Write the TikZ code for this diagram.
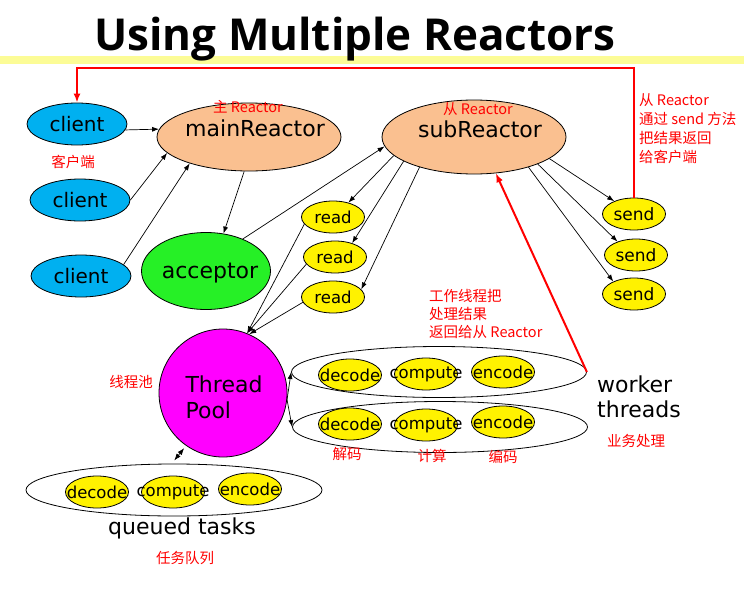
\documentclass[tikz,border=0pt]{standalone}
\usepackage{fontspec}
\setmainfont{DejaVu Sans}
\newfontfamily\titlefont{Open Sans}
\newfontfamily\cjk{Noto Sans CJK SC}
\usepackage{tikz}
\usetikzlibrary{arrows.meta,shapes.geometric}
\definecolor{clientblue}{RGB}{0,176,240}
\definecolor{reactorpeach}{RGB}{250,192,144}
\definecolor{acceptgreen}{RGB}{38,240,38}
\definecolor{poolmagenta}{RGB}{255,0,255}
\definecolor{bandyellow}{RGB}{252,252,150}
\newcommand{\nodetxt}[1]{\makebox[0pt]{#1}}
\tikzstyle{client}    = [ellipse, draw=black, line width=0.8pt, fill=clientblue, minimum width=100pt, minimum height=42pt, inner sep=0pt, font=\fontsize{20}{24}\selectfont]
\tikzstyle{reactor}   = [ellipse, draw=black, line width=0.8pt, fill=reactorpeach, minimum width=184pt, inner sep=0pt]
\tikzstyle{acceptor}  = [ellipse, draw=black, line width=0.8pt, fill=acceptgreen, minimum width=129pt, minimum height=77pt, inner sep=0pt]
\tikzstyle{pool}      = [circle, draw=black, line width=0.8pt, fill=poolmagenta, minimum size=128pt, inner sep=0pt]
\tikzstyle{yblob}     = [ellipse, draw=black, line width=0.8pt, fill=yellow, minimum width=63pt, minimum height=32pt, inner sep=0pt, font=\fontsize{16.5}{20}\selectfont]
\tikzstyle{wkgroup}   = [ellipse, draw=black, line width=0.8pt, minimum width=295pt, minimum height=51pt, inner sep=0pt]
\tikzstyle{bigtext}   = [inner sep=0pt, font=\fontsize{22}{26}\selectfont]
\tikzstyle{zh}        = [inner sep=0pt, text=red, font=\cjk\fontsize{14.5}{19}\selectfont]
\tikzstyle{arrow}     = [line width=0.7pt, -{Latex[length=7pt,width=5pt]}]
\tikzstyle{redarrow}  = [line width=2pt, red, -{Latex[length=9pt,width=7pt]}]

\begin{document}
\begin{tikzpicture}[x=1pt,y=-1pt]
		\useasboundingbox (0,0) rectangle (744,589);
		\fill[bandyellow] (0,56) rectangle (744,64);
		\node[anchor=base, inner sep=0pt, font=\titlefont\bfseries\fontsize{44}{50}\selectfont] (title) at (355,50) {Using Multiple Reactors};

		\node[client] (cl1) at (77,124) {client};
		\node[client] (cl2) at (80,200) {client};
		\node[client] (cl3) at (81,276) {client};
		\node[zh] (clzh) at (73,162) {客户端};

		\node[reactor, minimum height=68pt] (main) at (249,137) {};
		\node[zh] (mainzh) at (248,107) {主 Reactor};
		\node[bigtext] (maintxt) at (255,128) {mainReactor};

		\node[reactor, minimum height=74pt] (sub) at (474,137) {};
		\node[zh] (subzh) at (478,109) {从 Reactor};
		\node[bigtext] (subtxt) at (480,129) {subReactor};

		\node[acceptor] (acc) at (206,271) {};
		\node[bigtext] (acctxt) at (210,273) {acceptor};

		\node[yblob] (rd1) at (333,217) {read};
		\node[yblob] (rd2) at (335,257) {read};
		\node[yblob] (rd3) at (333,297) {read};

		\node[yblob, font=\fontsize{17}{20}\selectfont] (sd1) at (634,214) {send};
		\node[yblob, font=\fontsize{17}{20}\selectfont] (sd2) at (636,255) {send};
		\node[yblob, font=\fontsize{17}{20}\selectfont] (sd3) at (634,294) {send};
		\node[zh, align=left, anchor=north west] (sendzh) at (639,93) {从 Reactor\\通过 send 方法\\把结果返回\\给客户端};

		\node[pool] (pool) at (223,393) {};
		\node[bigtext, align=left] (pooltxt) at (224,397) {Thread\\Pool};
		\node[zh] (poolzh) at (131,382) {线程池};

		\node[wkgroup] (wk1) at (439,372) {};
		\node[yblob] (wk1d) at (350,375) {\nodetxt{decode}};
		\node[yblob] (wk1c) at (426,374) {\nodetxt{compute}};
		\node[yblob] (wk1e) at (503,372) {\nodetxt{encode}};

		\node[wkgroup] (wk2) at (440,427) {};
		\node[yblob] (wk2d) at (350,424) {\nodetxt{decode}};
		\node[yblob] (wk2c) at (426,425) {\nodetxt{compute}};
		\node[yblob] (wk2e) at (503,422) {\nodetxt{encode}};

		\node[zh] (dezh) at (347,454) {解码};
		\node[zh] (cozh) at (432,456) {计算};
		\node[zh] (enzh) at (503,457) {编码};
		\node[zh, align=left, anchor=north west, font=\cjk\fontsize{14.5}{18}\selectfont] (wkzh) at (429,289) {工作线程把\\处理结果\\返回给从 Reactor};
		\node[bigtext, align=left, anchor=west, font=\fontsize{22}{25}\selectfont] (wktxt) at (597,397) {worker\\threads};
		\node[zh] (wkbiz) at (636,441) {业务处理};

		\node[wkgroup, minimum width=296pt, minimum height=52pt] (q) at (174,490) {};
		\node[yblob] (qd) at (97,492) {\nodetxt{decode}};
		\node[yblob] (qc) at (173,492) {\nodetxt{compute}};
		\node[yblob] (qe) at (250,489) {\nodetxt{encode}};
		\node[bigtext] (qtxt) at (182,528) {queued tasks};
		\node[zh] (qzh) at (185,558) {任务队列};

		\draw[arrow] (cl1.-7) -- (main.175);
		\draw[arrow] (cl2.east) -- (main.191);
		\draw[arrow] (cl3.15) -- (main.204);
		\draw[arrow] (main.262) -- (acc.65);
		\draw[arrow] (acc.41) -- (sub.186);

		\draw[arrow] (sub.193) -- (rd1.43);
		\draw[arrow] (sub.199) -- (rd2.39);
		\draw[arrow] (sub.209) -- (rd3.15);
		\draw[arrow] (rd1.194) -- (pool.68);
		\draw[arrow] (rd2.194) -- (pool.68);
		\draw[arrow] (rd3.190) -- (pool.66);

		\draw[arrow] (sub.344) -- (sd1.147);
		\draw[arrow] (sub.337) -- (sd2.144);
		\draw[arrow] (sub.331) -- (sd3.149);

		\draw[arrow] (pool.-6) -- (wk1.west);
		\draw[arrow] (pool.-6) -- (wk2.west);
		\draw[arrow, {Latex[length=7pt,width=5pt]}-{Latex[length=7pt,width=5pt]}, shorten <=4pt, shorten >=3pt] (q.95) -- (pool.235);

		\draw[redarrow] (wk1.east) -- (sub.301);
		\draw[redarrow] (sd1.north) -- (sd1.north |- 0,68) -- (cl1.north |- 0,68) -- (cl1.north);
	\end{tikzpicture}
\end{document}
